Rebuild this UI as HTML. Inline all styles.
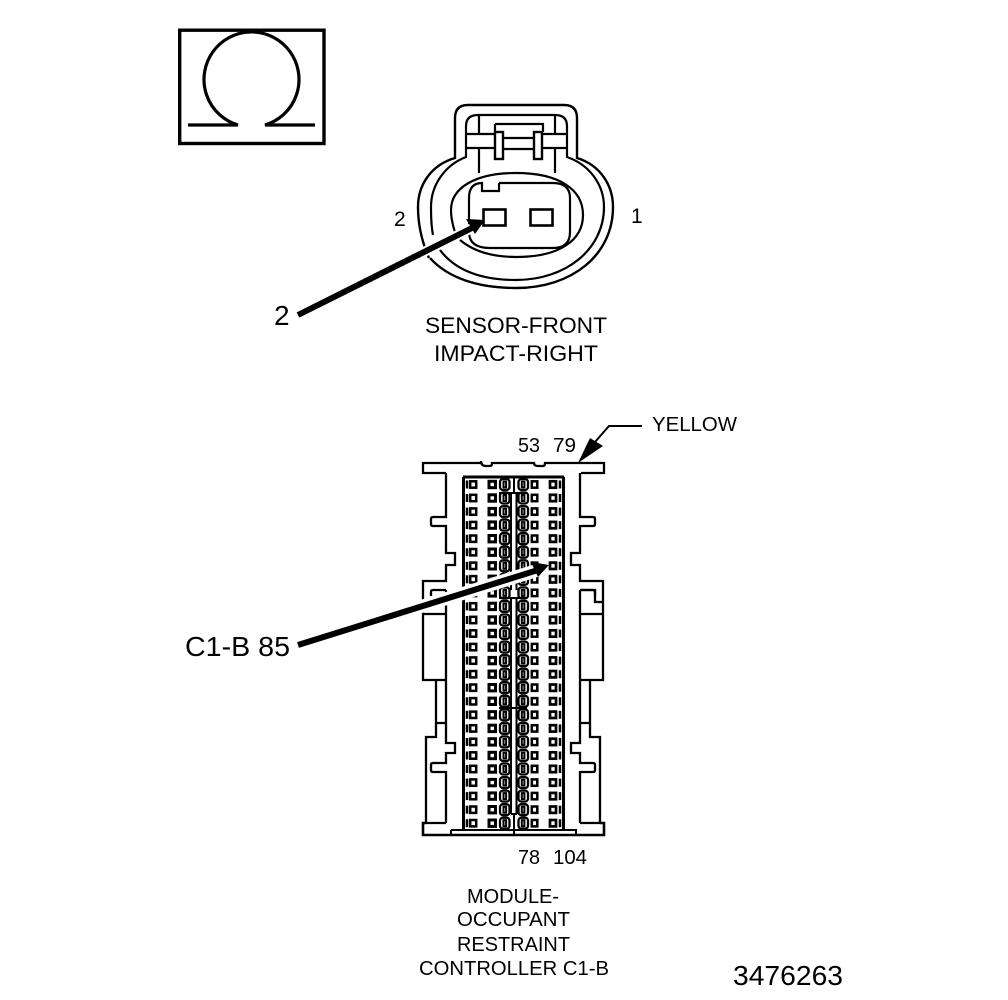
<!DOCTYPE html>
<html><head><meta charset="utf-8"><style>html,body{margin:0;padding:0;background:#fff}svg{display:block}text{font-family:"Liberation Sans",sans-serif;fill:#000}</style></head><body>
<svg width="1008" height="1000" viewBox="0 0 1008 1000" xmlns="http://www.w3.org/2000/svg">
<rect width="1008" height="1000" fill="#fff"/>
<defs>
<g id="row" fill="none" stroke="#000">
<path d="M467 -4V4" stroke-width="2.5"/>
<rect x="470.2" y="-3.2" width="6" height="6.4" stroke-width="2.5"/>
<rect x="489" y="-3.2" width="6.5" height="6.4" stroke-width="3"/>
<rect x="500" y="-5.5" width="9.5" height="11" rx="3" stroke-width="2.3"/>
<rect x="503.5" y="-3" width="2.6" height="6" stroke-width="2"/>
<rect x="518.5" y="-5.5" width="9.5" height="11" rx="3" stroke-width="2.3"/>
<rect x="521.8" y="-3" width="2.6" height="6" stroke-width="2"/>
<rect x="531.8" y="-3.2" width="5.5" height="6.4" stroke-width="2.5"/>
<rect x="550" y="-3.2" width="6" height="6.4" stroke-width="2.7"/>
<path d="M560 -4V4" stroke-width="2.5"/>
</g>
<path id="half" fill="none" stroke="#000" stroke-width="2.3" d="M446 473V517H433Q431 517 431 519V524Q431 526 433 526H446V553H455V565H446V581H423V680H436V723H446M436 723V737H426V823H446M446 590H433Q431 590 431 592V596M423 614H446M423 680H446M446 590V743H455V753H446V763H433Q431 763 431 765V770Q431 772 433 772H446V823"/>
</defs>

<!-- Omega box -->
<rect x="179.7" y="30.2" width="144.3" height="113.3" fill="none" stroke="#000" stroke-width="3.4"/>
<path d="M188 125H238A47.5 47.5 0 1 1 265 125H315" fill="none" stroke="#000" stroke-width="3.2"/>

<!-- Sensor connector -->
<g fill="none" stroke="#000" stroke-width="2.2">
<path d="M429 258C422 242 418 225 418 207C418 185 431 165 455 158V118Q455 105 468 105H564Q577 105 577 118V158C600 165 613 185 613 207C613 255 572 288 516 288C478 288 448 278 430 258" stroke-width="2.4"/>
<path d="M433 235C431 225 431 215 431 207C431 185 445 165 466 157V126Q466 115 478 115H555Q567 115 567 126V157C590 165 604 185 604 207C604 250 565 280 516 280C480 280 455 270 440 250"/>
<path d="M458 240C453 228 451 218 451 210C451 188 475 173 516 173C560 173 583 190 583 215C583 240 560 257 516 257C490 257 472 250 460 240"/>
<path d="M499 183H553Q570 183 570 198V232Q570 248 553 248H490Q469 248 469 232V198Q469 183 482 183V191H499V183"/>
<rect x="483.5" y="209.5" width="22" height="16" stroke-width="2.6"/>
<rect x="530.5" y="209.5" width="22" height="16" stroke-width="2.6"/>
<path d="M466 134H495M542 134H567M466 148H495M542 148H567M503 138H533M503 149H533M495 124H543V132M495 124V132"/>
<rect x="495" y="132" width="8" height="27" stroke-width="2.4"/>
<rect x="534" y="132" width="8" height="27" stroke-width="2.4"/>
<path d="M479 115V134M479 148V173M555 115V134M555 148V173"/>
</g>
<text x="394" y="226" font-size="21">2</text>
<text x="631" y="223" font-size="21">1</text>

<!-- Arrow 2 -->
<path d="M298 315L472 228" stroke="#fff" stroke-width="10" fill="none"/>
<path d="M298 315L472 228" stroke="#000" stroke-width="6" fill="none"/>
<polygon points="485,220 466,219 475,234" fill="#000"/>
<text x="274" y="325" font-size="28">2</text>

<text x="425" y="333" font-size="22" textLength="182" lengthAdjust="spacingAndGlyphs">SENSOR-FRONT</text>
<text x="434" y="361" font-size="22" textLength="164" lengthAdjust="spacingAndGlyphs">IMPACT-RIGHT</text>

<!-- Yellow leader -->
<text x="652" y="431" font-size="20.5" textLength="85" lengthAdjust="spacingAndGlyphs">YELLOW</text>
<path d="M642 426H609L595 442" fill="none" stroke="#000" stroke-width="2"/>
<polygon points="578,463 590,438 603,446" fill="#000"/>
<text x="518" y="452" font-size="20" textLength="22" lengthAdjust="spacingAndGlyphs">53</text>
<text x="553" y="452" font-size="20" textLength="23" lengthAdjust="spacingAndGlyphs">79</text>

<!-- Module connector -->
<g>
<path d="M446 473H423V463H481V461Q481 466 486 466H490Q492 466 492 463H534Q534 466 538 466H543Q545 466 545 463H604V473H581" fill="none" stroke="#000" stroke-width="2.3"/>
<use href="#half"/>
<use href="#half" transform="translate(1026 0) scale(-1 1)"/>
<path d="M580 590H595V602H603" fill="none" stroke="#000" stroke-width="2.3"/>
<path d="M426 823H423V835H604V823H600" fill="none" stroke="#000" stroke-width="2.6"/>
<path d="M451 830H576V835M451 830V835" fill="none" stroke="#000" stroke-width="2"/>
<path d="M463.5 477V830M563.5 477V830M463 477H564" fill="none" stroke="#000" stroke-width="3"/>
<g id="rows">
<use href="#row" y="484.5"/><use href="#row" y="498"/><use href="#row" y="511.6"/><use href="#row" y="525.1"/><use href="#row" y="538.7"/><use href="#row" y="552.2"/><use href="#row" y="565.8"/><use href="#row" y="579.3"/><use href="#row" y="592.9"/><use href="#row" y="606.4"/><use href="#row" y="620"/><use href="#row" y="633.5"/><use href="#row" y="647.1"/><use href="#row" y="660.6"/><use href="#row" y="674.2"/><use href="#row" y="687.7"/><use href="#row" y="701.3"/><use href="#row" y="714.8"/><use href="#row" y="728.4"/><use href="#row" y="741.9"/><use href="#row" y="755.5"/><use href="#row" y="769"/><use href="#row" y="782.6"/><use href="#row" y="796.1"/><use href="#row" y="809.7"/><use href="#row" y="823.2"/>
</g>
<path d="M514 477V493M499 493H527M511 493V590M516.5 493V590M499 598H527M511 598V708M516.5 598V708M499 708H527M511 708V814M516.5 708V814M511 814H517M514 814V835" fill="none" stroke="#000" stroke-width="2"/>
</g>

<!-- Arrow C1-B 85: white halo + shaft -->
<path d="M298 645L538 570" stroke="#fff" stroke-width="13" fill="none"/>
<path d="M298 645L538 570" stroke="#000" stroke-width="6" fill="none"/>
<polygon points="549,565 531,562 538,577" fill="#000"/>
<text x="185" y="656" font-size="28" textLength="105" lengthAdjust="spacingAndGlyphs">C1-B 85</text>

<text x="518" y="864" font-size="20" textLength="22" lengthAdjust="spacingAndGlyphs">78</text>
<text x="553" y="864" font-size="20" textLength="34" lengthAdjust="spacingAndGlyphs">104</text>

<text x="467" y="903" font-size="20" textLength="92" lengthAdjust="spacingAndGlyphs">MODULE-</text>
<text x="457" y="926" font-size="20" textLength="113" lengthAdjust="spacingAndGlyphs">OCCUPANT</text>
<text x="457" y="951" font-size="20" textLength="113" lengthAdjust="spacingAndGlyphs">RESTRAINT</text>
<text x="419" y="975" font-size="20" textLength="190" lengthAdjust="spacingAndGlyphs">CONTROLLER C1-B</text>
<text x="733" y="985" font-size="28" textLength="110" lengthAdjust="spacingAndGlyphs">3476263</text>
</svg>
</body></html>
